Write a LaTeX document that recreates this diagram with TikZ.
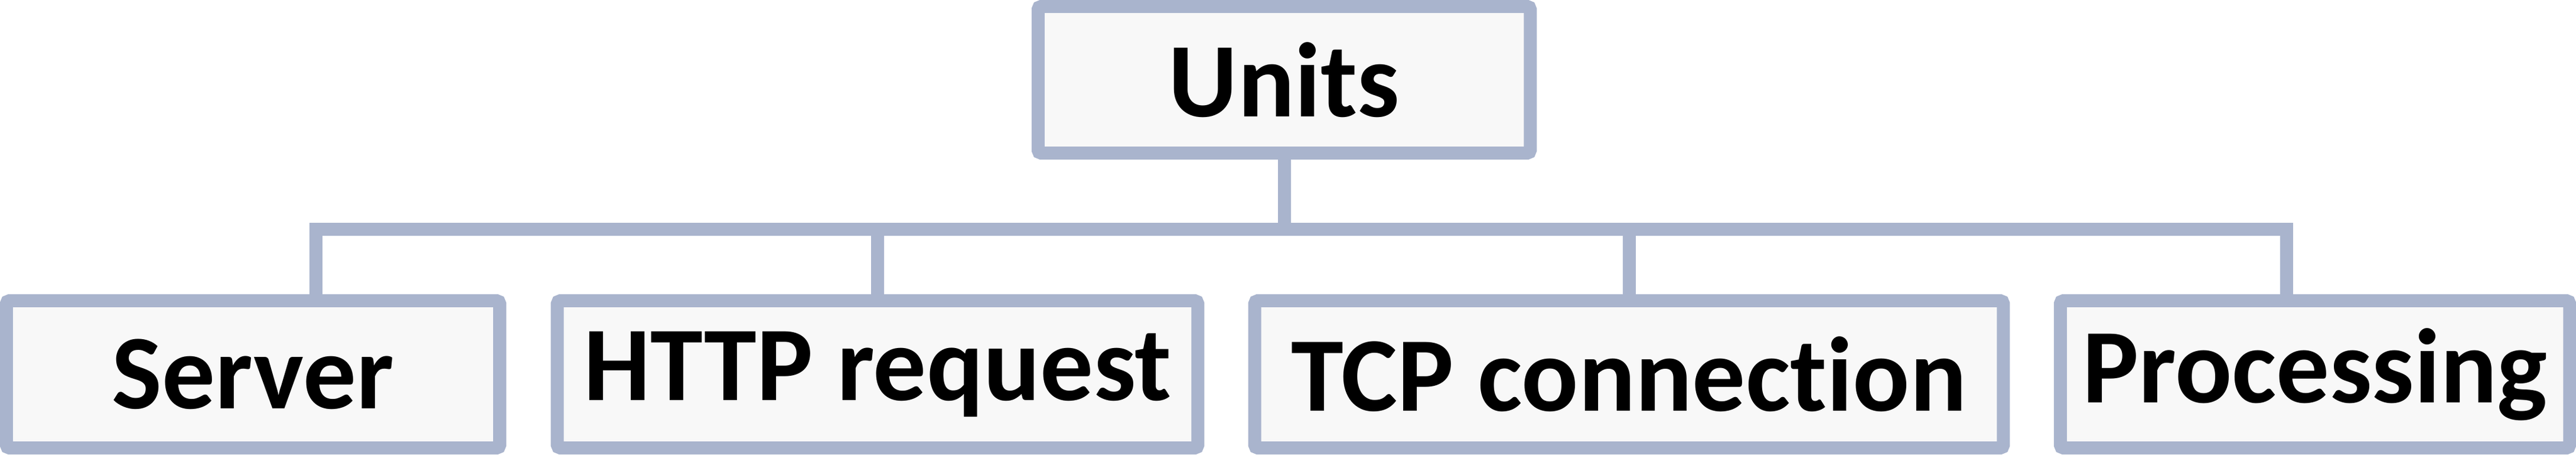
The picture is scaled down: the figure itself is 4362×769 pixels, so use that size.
\documentclass[tikz,border=0pt]{standalone}
\usepackage{fontspec}
\setmainfont{Carlito}[Ligatures=NoCommon]
\definecolor{unitline}{HTML}{A9B4CD}
\definecolor{unitfill}{HTML}{F8F8F8}
\begin{document}
\begin{tikzpicture}[x=0.01cm,y=-0.01cm,
  unit/.style={draw=unitline,fill=unitfill,line width=0.22cm,rounded corners=1.5pt,
    minimum height=2.49cm,inner sep=0pt,font=\fontsize{51}{60}\selectfont\bfseries},
  link/.style={draw=unitline,line width=0.22cm}]
\useasboundingbox (0,0) rectangle (4362,769);
\node[unit,minimum width=8.33cm,minimum height=2.48cm] (units) at (2174.5,135) {Units};
\node[unit,minimum width=8.35cm] (server) at (428.5,633.5) {Server};
\node[unit,minimum width=10.84cm] (http) at (1486,633.5) {HTTP request};
\node[unit,minimum width=12.67cm] (tcp) at (2758.5,633.5) {TCP connection};
\node[unit,minimum width=8.62cm] (proc) at (3920,633.5) {Processing};
\coordinate (bar) at (0,387.5);
\draw[link] (units.south) -- (units.south |- bar) -| ([xshift=1.065cm]server.north);
\draw[link] (units.south) -- (units.south |- bar) -| (http.north);
\draw[link] (units.south) -- (units.south |- bar) -| (tcp.north);
\draw[link] (units.south) -- (units.south |- bar) -| ([xshift=-0.48cm]proc.north);
\end{tikzpicture}
\end{document}
